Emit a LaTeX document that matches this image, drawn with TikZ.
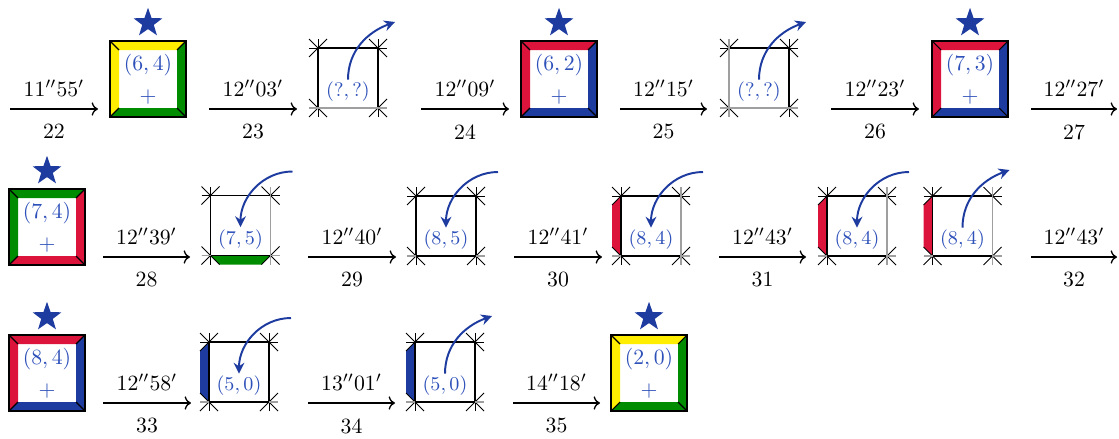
\documentclass[tikz,border=0pt]{standalone}
\usepackage{amsmath, amssymb}
\usepackage{tikz}
\usetikzlibrary{arrows.meta, shapes.geometric}

\definecolor{tileyellow}{RGB}{255,238,0}
\definecolor{tilegreen}{RGB}{0,140,0}
\definecolor{tilered}{RGB}{220,20,60}
\definecolor{tileblue}{RGB}{30,60,160}
\definecolor{lblblue}{RGB}{45,80,185}

\tikzset{
  tileedge/.style={black, line width=0.5pt},
  holeedge/.style={black, line width=0.7pt},
  gridline/.style={black, line width=0.45pt},
  grayline/.style={gray!75, line width=0.7pt},
  tilelbl/.style={text=lblblue, inner sep=1pt},
  holelbl/.style={text=lblblue, inner sep=1pt, font=\fontsize{9.3pt}{11pt}\selectfont},
  bigstar/.style={star, star points=5, star point ratio=2.5, fill=tileblue, minimum size=14pt, inner sep=0pt},
  movearrow/.style={-{Stealth[length=5pt, width=5pt]}, tileblue, line width=0.9pt},
  movestep/.style={->, line width=0.6pt},
  timelbl/.style={above=2pt},
  numlbl/.style={below=3.5pt}
}

% a placed tile: name, centre, top, right, bottom, left colour, position
\newcommand{\fulltile}[7]{%
  \begin{scope}[shift={#2}]
    \fill[#3] (-38,38) -- (38,38) -- (29,29) -- (-29,29) -- cycle;
    \fill[#4] (38,38) -- (38,-38) -- (29,-29) -- (29,29) -- cycle;
    \fill[#5] (38,-38) -- (-38,-38) -- (-29,-29) -- (29,-29) -- cycle;
    \fill[#6] (-38,-38) -- (-38,38) -- (-29,29) -- (-29,-29) -- cycle;
    \draw[tileedge] (-38,-38) rectangle (38,38);
    \draw[tileedge] (-38,-38) -- (-29,-29) (38,-38) -- (29,-29) (38,38) -- (29,29) (-38,38) -- (-29,29);
    \node[bigstar] (#1s) at (0,56) {};
    \node[tilelbl] (#1) at (0,14) {$#7$};
    \node[tilelbl] (#1p) at (0,-18) {$+$};
  \end{scope}}

% the empty place on the board
\newcommand{\holegrid}{%
  \draw[gridline] (-39,30) -- (39,30) (-39,-30) -- (39,-30) (-30,-39) -- (-30,39) (30,-39) -- (30,39);
  \foreach \sx/\sy in {1/1,-1/1,-1/-1,1/-1}
    \draw[gridline] (\sx*21,\sy*39) -- (\sx*30,\sy*30) -- (\sx*39,\sy*21) (\sx*30,\sy*30) -- (\sx*39,\sy*39);
  \draw[holeedge] (-30,-30) rectangle (30,30);}

% one step: name, x from, x to, y, time, number
\newcommand{\steparrow}[6]{%
  \coordinate (#1s) at (#2,#4); \coordinate (#1e) at (#3,#4);
  \draw[movestep] (#1s) -- node[timelbl] (#1t) {$#5$} node[numlbl] (#1n) {#6} (#1e);}

\begin{document}
\begin{tikzpicture}[x=0.46pt, y=0.46pt]
  \useasboundingbox (0,0) rectangle (1119,-438);

  % first row
  \steparrow{a22}{10}{98}{-109}{11''55'}{22}
  \fulltile{t22}{(148,-79)}{tileyellow}{tilegreen}{tilegreen}{tileyellow}{(6,4)}
  \steparrow{a23}{209}{297}{-109}{12''03'}{23}
  \begin{scope}[shift={(348,-78)}]
    \holegrid
    \draw[grayline] (-39,-30) -- (39,-30);
    \node[holelbl] (h23) at (0,-14) {$(?,?)$};
    \coordinate (h23o) at (47,56);
    \draw[movearrow] (h23.north) to[out=90, in=200] (h23o);
  \end{scope}
  \steparrow{a24}{421}{509}{-109}{12''09'}{24}
  \fulltile{t24}{(559,-79)}{tilered}{tileblue}{tileblue}{tilered}{(6,2)}
  \steparrow{a25}{620}{707}{-109}{12''15'}{25}
  \begin{scope}[shift={(759,-78)}]
    \holegrid
    \draw[grayline] (-39,-30) -- (39,-30) (-30,-39) -- (-30,39);
    \node[holelbl] (h25) at (0,-14) {$(?,?)$};
    \coordinate (h25o) at (47,56);
    \draw[movearrow] (h25.north) to[out=90, in=200] (h25o);
  \end{scope}
  \steparrow{a26}{831}{919}{-109}{12''23'}{26}
  \fulltile{t26}{(970,-79)}{tilered}{tileblue}{tileblue}{tilered}{(7,3)}
  \steparrow{a27}{1031}{1117}{-109}{12''27'}{27}

  % second row
  \fulltile{t27}{(47,-227)}{tilegreen}{tilered}{tilered}{tilegreen}{(7,4)}
  \steparrow{a28}{103}{190}{-257}{12''39'}{28}
  \begin{scope}[shift={(240.5,-225.5)}]
    \fill[tilegreen] (-30,-30) -- (30,-30) -- (21,-39) -- (-21,-39) -- cycle;
    \holegrid
    \draw[grayline] (30,-39) -- (30,39) (-39,-30) -- (-30,-30) (30,-30) -- (39,-30);
    \node[holelbl] (h28) at (0,-14) {$(7,5)$};
    \coordinate (h28i) at (52,54);
    \draw[movearrow] (h28i) to[out=180, in=90] (h28.north);
  \end{scope}
  \steparrow{a29}{308}{396}{-257}{12''40'}{29}
  \begin{scope}[shift={(446,-226)}]
    \holegrid
    \draw[grayline] (-39,-30) -- (-30,-30) (30,-30) -- (39,-30);
    \node[holelbl] (h29) at (0,-14) {$(8,5)$};
    \coordinate (h29i) at (52,54);
    \draw[movearrow] (h29i) to[out=180, in=90] (h29.north);
  \end{scope}
  \steparrow{a30}{514}{602}{-257}{12''41'}{30}
  \begin{scope}[shift={(651,-226)}]
    \fill[tilered] (-30,30) -- (-30,-30) -- (-39,-21) -- (-39,21) -- cycle;
    \holegrid
    \draw[grayline] (30,-39) -- (30,39) (-39,-30) -- (-30,-30) (30,-30) -- (39,-30);
    \node[holelbl] (h30) at (0,-14) {$(8,4)$};
    \coordinate (h30i) at (52,54);
    \draw[movearrow] (h30i) to[out=180, in=90] (h30.north);
  \end{scope}
  \steparrow{a31}{719}{806}{-257}{12''43'}{31}
  \begin{scope}[shift={(857,-226)}]
    \fill[tilered] (-30,30) -- (-30,-30) -- (-39,-21) -- (-39,21) -- cycle;
    \holegrid
    \draw[grayline] (30,-39) -- (30,39) (-39,-30) -- (-30,-30) (30,-30) -- (39,-30);
    \node[holelbl] (h31) at (0,-14) {$(8,4)$};
    \coordinate (h31i) at (52,54);
    \draw[movearrow] (h31i) to[out=180, in=90] (h31.north);
  \end{scope}
  \begin{scope}[shift={(962.5,-226)}]
    \fill[tilered] (-30,30) -- (-30,-30) -- (-39,-21) -- (-39,21) -- cycle;
    \holegrid
    \draw[grayline] (30,-39) -- (30,39) (-39,-30) -- (-30,-30) (30,-30) -- (39,-30);
    \node[holelbl] (h32) at (0,-14) {$(8,4)$};
    \coordinate (h32o) at (47,56);
    \draw[movearrow] (h32.north) to[out=90, in=200] (h32o);
  \end{scope}
  \steparrow{a32}{1031}{1117}{-257}{12''43'}{32}

  % third row
  \fulltile{t32}{(47,-373)}{tilered}{tileblue}{tileblue}{tilered}{(8,4)}
  \steparrow{a33}{103}{191}{-403}{12''58'}{33}
  \begin{scope}[shift={(239,-372)}]
    \fill[tileblue] (-30,30) -- (-30,-30) -- (-39,-21) -- (-39,21) -- cycle;
    \holegrid
    \draw[grayline] (-39,-30) -- (-30,-30) (30,-30) -- (39,-30);
    \node[holelbl] (h33) at (0,-14) {$(5,0)$};
    \coordinate (h33i) at (52,54);
    \draw[movearrow] (h33i) to[out=180, in=90] (h33.north);
  \end{scope}
  \steparrow{a34}{308}{395}{-403}{13''01'}{34}
  \begin{scope}[shift={(445,-372)}]
    \fill[tileblue] (-30,30) -- (-30,-30) -- (-39,-21) -- (-39,21) -- cycle;
    \holegrid
    \draw[grayline] (-39,-30) -- (-30,-30) (30,-30) -- (39,-30);
    \node[holelbl] (h34) at (0,-14) {$(5,0)$};
    \coordinate (h34o) at (47,56);
    \draw[movearrow] (h34.north) to[out=90, in=200] (h34o);
  \end{scope}
  \steparrow{a35}{513}{600}{-403}{14''18'}{35}
  \fulltile{t35}{(649,-373)}{tileyellow}{tilegreen}{tilegreen}{tileyellow}{(2,0)}
\end{tikzpicture}
\end{document}
